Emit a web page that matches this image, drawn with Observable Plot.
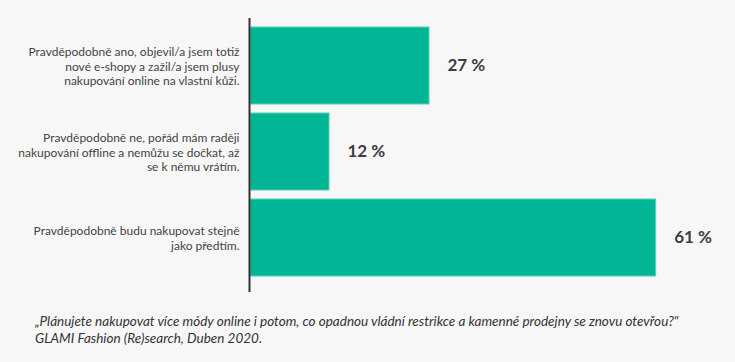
<!DOCTYPE html>
<html>
<head>
<meta charset="utf-8">
<script src="https://cdn.jsdelivr.net/npm/d3@7"></script>
<script src="https://cdn.jsdelivr.net/npm/@observablehq/plot@0.6"></script>
<style>
  html, body { margin: 0; padding: 0; background: #f7f7f7; }
  #chart svg { display: block; background: #f7f7f7; }
  .caption {
    font-family: Lato, "Open Sans", sans-serif;
    font-style: italic;
    font-size: 13.5px;
    line-height: 16.5px;
    color: #333;
    margin: 21px 0 0 35px;
  }
</style>
</head>
<body>
<div id="chart"></div>
<div class="caption">„Plánujete nakupovat více módy online i potom, co opadnou vládní restrikce a kamenné prodejny se znovu otevřou?"<br>GLAMI Fashion (Re)search, Duben 2020.</div>
<script>
const categories = [
  "Pravděpodobně ano, objevil/a jsem totiž\nnové e-shopy a zažil/a jsem plusy\nnakupování online na vlastní kůži.",
  "Pravděpodobně ne, pořád mám raději\nnakupování offline a nemůžu se dočkat, až\nse k němu vrátím.",
  "Pravděpodobně budu nakupovat stejně\njako předtím."
];
const values = [27, 12, 61];
const valueLabels = ["27 %", "12 %", "61 %"];

const data = categories.map((c, i) => ({category: c, value: values[i], label: valueLabels[i]}));

const chart = Plot.plot({
  width: 735,
  height: 292,
  marginLeft: 249,
  marginRight: 6,
  marginTop: 18,
  marginBottom: 6,
  style: {fontFamily: "Lato, 'Open Sans', sans-serif", background: "#f7f7f7"},
  x: {domain: [0, 72], axis: null},
  y: {domain: categories, padding: 0.1, axis: null},
  marks: [
    Plot.barX(data, {x: "value", y: "category", fill: "#00b694", stroke: "#5ccfb4", strokeWidth: 1, insetLeft: 1}),
    Plot.text(data, {x: 0, y: "category", text: "category", textAnchor: "end", dx: -10, fontSize: 12, lineHeight: 1.21, fill: "#444"}),
    Plot.text(data, {x: "value", y: "category", text: "label", textAnchor: "start", dx: 18, fontSize: 17, fontWeight: "bold", fill: "#3d3d3d"}),
    Plot.ruleX([0], {stroke: "#333", strokeWidth: 2, insetBottom: -6})
  ]
});
document.getElementById("chart").appendChild(chart);
</script>
</body>
</html>
